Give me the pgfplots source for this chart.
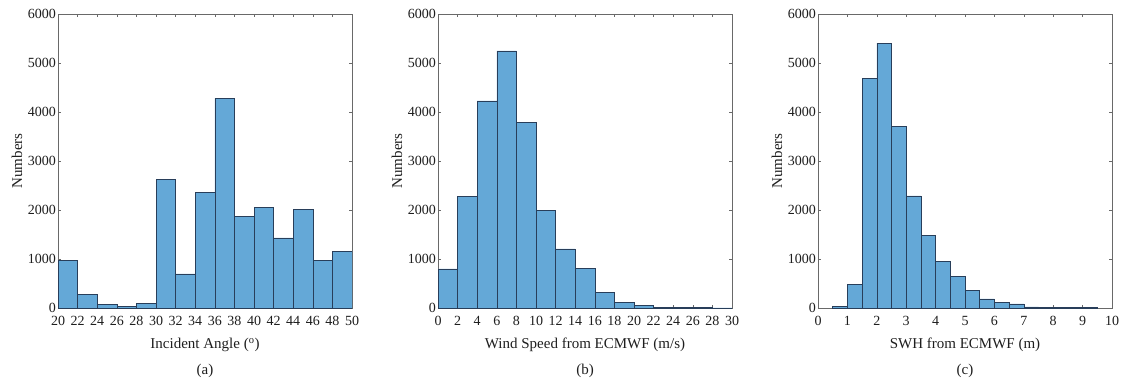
\documentclass[border=0pt]{standalone}
\usepackage{pgfplots}
\pgfplotsset{compat=1.18}
\usepackage{fontspec}
\setmainfont{Liberation Serif}
\definecolor{barfill}{RGB}{100,168,215}
\definecolor{baredge}{RGB}{40,62,90}
\definecolor{axgray}{RGB}{105,105,105}
\definecolor{txt}{RGB}{30,30,30}
\pgfplotsset{
  hist/.style={
    width=294pt, height=294pt, scale only axis,
    anchor=south west,
    ymin=0, ymax=6000,
    ytick={0,1000,2000,3000,4000,5000,6000},
    scaled y ticks=false,
    /pgf/number format/assume math mode=true,
    /pgf/number format/1000 sep={},
    tick align=inside, tick pos=both,
    major tick length=3pt,
    axis line style={axgray, line width=0.6pt},
    every tick/.style={axgray, line width=0.6pt},
    tick label style={font=\fontsize{14}{16}\selectfont, text=txt},
    xticklabel style={yshift=-5pt},
    yticklabel style={xshift=1.5pt},
    ylabel={Numbers},
    every axis y label/.style={at={([xshift=-41pt]axis description cs:0,0.5)}, rotate=90, anchor=center, font=\fontsize{15}{17}\selectfont, text=txt},
    every axis x label/.style={at={([yshift=-37pt]axis description cs:0.5,0)}, anchor=center, font=\fontsize{15}{17}\selectfont, text=txt},
    title style={at={([yshift=-69pt]axis description cs:0.5,0)}, anchor=center, font=\fontsize{15}{17}\selectfont, text=txt},
  },
  barstyle/.style={ybar interval, fill=barfill, draw=baredge, line width=0.5pt},
}
\begin{document}
\begin{tikzpicture}
\useasboundingbox (0,0) rectangle (1126pt,386pt);
% (a) incident angle
\begin{axis}[hist, at={(58pt,78pt)},
  xmin=20, xmax=50, xtick={20,22,...,50},
  xlabel={Incident Angle (\textsuperscript{o})}, title={(a)}]
\addplot[barstyle] coordinates {
(20,975) (22,280) (24,75) (26,40) (28,95) (30,2620) (32,695) (34,2365)
(36,4280) (38,1865) (40,2050) (42,1430) (44,2010) (46,975) (48,1160) (50,1160)};
\end{axis}
% (b) wind speed
\begin{axis}[hist, at={(438pt,78pt)},
  xmin=0, xmax=30, xtick={0,2,...,30},
  xlabel={Wind Speed from ECMWF (m/s)}, title={(b)}]
\addplot[barstyle] coordinates {
(0,800) (2,2285) (4,4225) (6,5245) (8,3795) (10,2000) (12,1205) (14,815)
(16,315) (18,115) (20,55) (22,20) (24,15) (26,8) (28,4) (30,4)};
\end{axis}
% (c) SWH
\begin{axis}[hist, at={(818pt,78pt)},
  xmin=0, xmax=10, xtick={0,1,...,10},
  xlabel={SWH from ECMWF (m)}, title={(c)}]
\addplot[barstyle] coordinates {
(0.5,40) (1,480) (1.5,4690) (2,5405) (2.5,3700) (3,2290) (3.5,1480) (4,945)
(4.5,650) (5,355) (5.5,185) (6,112) (6.5,82) (7,25) (7.5,15) (8,12) (8.5,10) (9,10) (9.5,10)};
\end{axis}
\end{tikzpicture}
\end{document}
